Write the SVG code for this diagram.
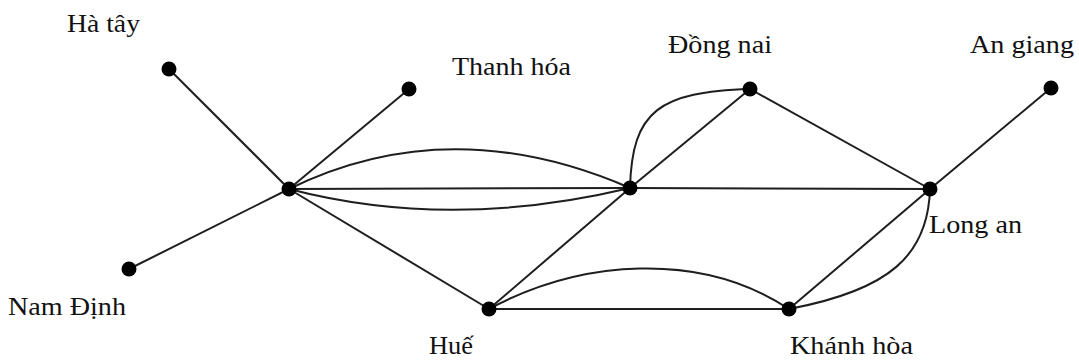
<svg xmlns="http://www.w3.org/2000/svg" width="1079" height="360" viewBox="0 0 1079 360">
<style>
.e{fill:none;stroke:#1e1e1e;stroke-width:2}
.n{fill:#000}
.t{font-family:"Liberation Serif","Times New Roman",serif;font-size:26px;fill:#111}
</style>
<rect width="1079" height="360" fill="#fff"/>
<g id="connectors">
<line class="e" x1="169" y1="69" x2="289" y2="189"/>
<line class="e" x1="409" y1="89" x2="289" y2="189"/>
<line class="e" x1="129" y1="269" x2="289" y2="189"/>
<line class="e" x1="289" y1="189" x2="630" y2="188"/>
<path class="e" d="M289,189 Q450,110 630,188"/>
<path class="e" d="M289,189 Q450,231 630,188"/>
<line class="e" x1="289" y1="189" x2="489" y2="309"/>
<line class="e" x1="489" y1="309" x2="630" y2="188"/>
<line class="e" x1="630" y1="188" x2="750" y2="89"/>
<path class="e" d="M630,188 C632,110 660,92 750,89"/>
<line class="e" x1="750" y1="89" x2="930" y2="189"/>
<line class="e" x1="630" y1="188" x2="930" y2="189"/>
<line class="e" x1="930" y1="189" x2="1051" y2="88"/>
<line class="e" x1="489" y1="309" x2="789" y2="309"/>
<path class="e" d="M489,309 C580,260 700,250 789,309"/>
<line class="e" x1="789" y1="309" x2="930" y2="189"/>
<path class="e" d="M930,189 C928,255 890,290 789,309"/>
</g>
<g id="n-hatay"><circle class="n" cx="169" cy="69" r="7.5"/><text class="t" x="67" y="32" textLength="73" lengthAdjust="spacingAndGlyphs">Hà tây</text></g>
<g id="n-thanhhoa"><circle class="n" cx="409" cy="89" r="7.5"/><text class="t" x="452" y="75" textLength="119" lengthAdjust="spacingAndGlyphs">Thanh hóa</text></g>
<g id="n-namdinh"><circle class="n" cx="129" cy="269" r="7.5"/><text class="t" x="8" y="315" textLength="118" lengthAdjust="spacingAndGlyphs">Nam Định</text></g>
<g id="n-hub"><circle class="n" cx="289" cy="189" r="7.5"/></g>
<g id="n-center"><circle class="n" cx="630" cy="188" r="7.5"/></g>
<g id="n-dongnai"><circle class="n" cx="750" cy="89" r="7.5"/><text class="t" x="668" y="53" textLength="104" lengthAdjust="spacingAndGlyphs">Đồng nai</text></g>
<g id="n-angiang"><circle class="n" cx="1051" cy="88" r="7.5"/><text class="t" x="970" y="53" textLength="104" lengthAdjust="spacingAndGlyphs">An giang</text></g>
<g id="n-longan"><circle class="n" cx="930" cy="189" r="7.5"/><text class="t" x="929" y="233" textLength="93" lengthAdjust="spacingAndGlyphs">Long an</text></g>
<g id="n-hue"><circle class="n" cx="489" cy="309" r="7.5"/><text class="t" x="429" y="354" textLength="44" lengthAdjust="spacingAndGlyphs">Huế</text></g>
<g id="n-khanhhoa"><circle class="n" cx="789" cy="309" r="7.5"/><text class="t" x="790" y="354" textLength="123" lengthAdjust="spacingAndGlyphs">Khánh hòa</text></g>
</svg>
